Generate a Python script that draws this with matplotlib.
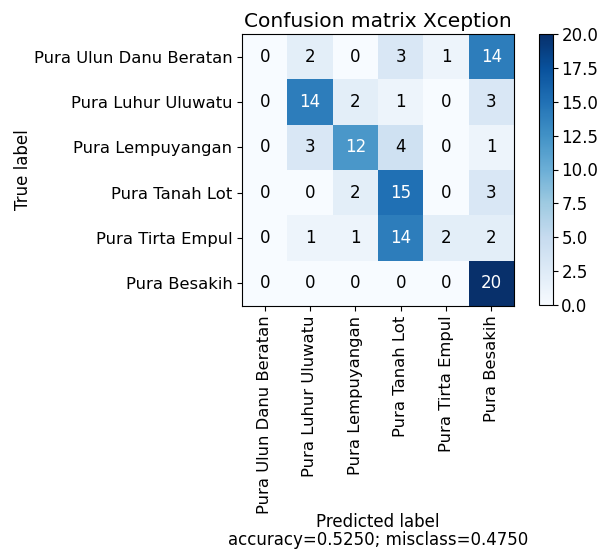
import numpy as np
import matplotlib
matplotlib.use("Agg")
import matplotlib.pyplot as plt

classes = ["Pura Ulun Danu Beratan", "Pura Luhur Uluwatu", "Pura Lempuyangan",
           "Pura Tanah Lot", "Pura Tirta Empul", "Pura Besakih"]
row_ulun = [0, 2, 0, 3, 1, 14]
row_luhur = [0, 14, 2, 1, 0, 3]
row_lempuyangan = [0, 3, 12, 4, 0, 1]
row_tanah = [0, 0, 2, 15, 0, 3]
row_tirta = [0, 1, 1, 14, 2, 2]
row_besakih = [0, 0, 0, 0, 0, 20]

cm = np.array([row_ulun, row_luhur, row_lempuyangan, row_tanah, row_tirta, row_besakih])
accuracy = np.trace(cm) / cm.sum()
misclass = 1 - accuracy

W, H = 598, 553
fig = plt.figure(figsize=(W / 100, H / 100), dpi=100)

def box(l, t, r, b):
    return [l / W, 1 - b / H, (r - l) / W, (b - t) / H]

ax = fig.add_axes(box(242, 34, 514, 306))
im = ax.imshow(cm, interpolation="nearest", cmap=plt.get_cmap("Blues"), aspect="auto", vmin=0, vmax=20)
ax.set_title("Confusion matrix Xception", fontsize=14.5, pad=5)
ticks = np.arange(len(classes))
ax.set_xticks(ticks)
ax.set_xticklabels(classes, rotation=90, fontsize=11.8)
ax.set_yticks(ticks)
ax.set_yticklabels(classes, fontsize=11.8)

thresh = cm.max() / 2
for i in range(cm.shape[0]):
    for j in range(cm.shape[1]):
        ax.text(j, i, "{:,}".format(cm[i, j]), ha="center", va="center", fontsize=12,
                color="white" if cm[i, j] > thresh else "black")

ax.set_ylabel("True label", fontsize=12, labelpad=1)
ax.set_xlabel("Predicted label\naccuracy={:0.4f}; misclass={:0.4f}".format(accuracy, misclass),
              fontsize=12, linespacing=1.0)
ax.xaxis.set_label_coords(0.5, -(513 - 306) / 272)

cax = fig.add_axes(box(539, 34, 553, 305))
cb = fig.colorbar(im, cax=cax)
cb.set_ticks(np.arange(0, 20.01, 2.5))
cb.ax.tick_params(labelsize=12, pad=2.5)

fig.savefig("out.png", dpi=100)
